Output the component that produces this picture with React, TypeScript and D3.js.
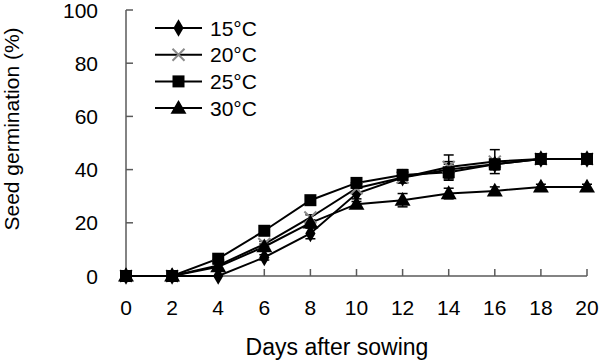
import React, { useRef, useEffect } from 'react';
import * as d3 from 'd3';

// Days after sowing
const days = [0, 2, 4, 6, 8, 10, 12, 14, 16, 18, 20];
const seriesNames = ['15°C', '20°C', '25°C', '30°C'];

// Mean germination (%) per series
const g15 = [0, 0, 0, 7, 16, 31, 37, 40, 42, 44, 44];
const g20 = [0, 0, 4, 12, 22, 33, 37, 41, 43, 44, 44];
const g25 = [0, 0, 6.5, 17, 28.5, 35, 38, 39, 42, 44, 44];
const g30 = [0, 0, 3.5, 11, 20, 27, 28.5, 31, 32, 33.5, 33.5];

// Error bar half-lengths
const e15 = [0, 0, 0, 1, 2, 2, 2, 3, 2, 1, 1];
const e20 = [0, 0, 1, 1, 1, 2, 2, 4.5, 4.5, 1, 1];
const e25 = [0, 0, 1, 1, 1, 1, 2, 3, 2, 1, 1];
const e30 = [0, 0, 1, 1, 1, 1, 2.5, 2, 1.5, 1, 1];

const yTicks = [0, 20, 40, 60, 80, 100];

const W = 600;
const H = 362;
const FONT = '"Liberation Sans", Arial, sans-serif';
const AXIS = '#5a5a5a';

type Shape = 'diamond' | 'cross' | 'square' | 'triangle';
const shapes: Shape[] = ['diamond', 'cross', 'square', 'triangle'];
const means = [g15, g20, g25, g30];
const errs = [e15, e20, e25, e30];

const App = () => {
  const svgRef = useRef<SVGSVGElement | null>(null);

  useEffect(() => {
    const svg = d3.select(svgRef.current);
    svg.selectAll('*').remove();

    const x = d3.scaleLinear().domain([0, 20]).range([126, 587]);
    const y = d3.scaleLinear().domain([0, 100]).range([276, 10]);

    const drawMarker = (g: d3.Selection<SVGGElement, unknown, null, undefined>, shape: Shape, cx: number, cy: number) => {
      if (shape === 'diamond') {
        g.append('path').attr('d', d3.symbol().type(d3.symbolDiamond).size(90)()).attr('transform', `translate(${cx},${cy})`).attr('fill', '#000');
      } else if (shape === 'square') {
        g.append('rect').attr('x', cx - 6).attr('y', cy - 6).attr('width', 12).attr('height', 12).attr('fill', '#000');
      } else if (shape === 'triangle') {
        g.append('path').attr('d', d3.symbol().type(d3.symbolTriangle).size(110)()).attr('transform', `translate(${cx},${cy + 1})`).attr('fill', '#000');
      } else {
        g.append('path').attr('d', `M${cx - 6},${cy - 6}L${cx + 6},${cy + 6}M${cx - 6},${cy + 6}L${cx + 6},${cy - 6}`)
          .attr('stroke', '#8a8a8a').attr('stroke-width', 2).attr('fill', 'none');
      }
    };

    // axes
    const ax = svg.append('g');
    ax.append('line').attr('x1', x(0)).attr('x2', x(0)).attr('y1', y(100)).attr('y2', y(0)).attr('stroke', AXIS).attr('stroke-width', 1.5);
    ax.append('line').attr('x1', x(0)).attr('x2', x(20)).attr('y1', y(0)).attr('y2', y(0)).attr('stroke', AXIS).attr('stroke-width', 1.5);
    yTicks.forEach((t) => {
      ax.append('line').attr('x1', x(0)).attr('x2', x(0) + 7).attr('y1', y(t)).attr('y2', y(t)).attr('stroke', AXIS).attr('stroke-width', 1.5);
      ax.append('text').attr('x', 98).attr('y', y(t) + 7.5).attr('text-anchor', 'end')
        .attr('font-family', FONT).attr('font-size', 21).attr('fill', '#000').text(t);
    });
    days.forEach((d) => {
      if (d > 0) {
        ax.append('line').attr('x1', x(d)).attr('x2', x(d)).attr('y1', y(0)).attr('y2', y(0) - 7).attr('stroke', AXIS).attr('stroke-width', 1.5);
      }
      ax.append('text').attr('x', x(d)).attr('y', 315).attr('text-anchor', 'middle')
        .attr('font-family', FONT).attr('font-size', 21).attr('fill', '#000').text(d);
    });
    ax.append('text').attr('x', 337).attr('y', 355).attr('text-anchor', 'middle')
      .attr('font-family', FONT).attr('font-size', 23).attr('fill', '#000').text('Days after sowing');
    ax.append('text').attr('transform', `translate(19,129) rotate(-90)`).attr('text-anchor', 'middle')
      .attr('font-family', FONT).attr('font-size', 21).attr('fill', '#000').text('Seed germination (%)');

    // series
    const line = d3.line<number>().x((_, i) => x(days[i])).y((v) => y(v));
    means.forEach((m, si) => {
      const g = svg.append('g');
      g.append('path').attr('d', line(m)).attr('fill', 'none').attr('stroke', '#000').attr('stroke-width', 2);
      m.forEach((v, i) => {
        const e = errs[si][i];
        if (e > 0) {
          const cx = x(days[i]);
          g.append('line').attr('x1', cx).attr('x2', cx).attr('y1', y(v - e)).attr('y2', y(v + e)).attr('stroke', '#000').attr('stroke-width', 1.5);
          [v - e, v + e].forEach((b) => {
            g.append('line').attr('x1', cx - 5).attr('x2', cx + 5).attr('y1', y(b)).attr('y2', y(b)).attr('stroke', '#000').attr('stroke-width', 1.5);
          });
        }
      });
    });
    means.forEach((m, si) => {
      const g = svg.append('g');
      m.forEach((v, i) => drawMarker(g, shapes[si], x(days[i]), y(v)));
    });

    // legend
    const lg = svg.append('g');
    seriesNames.forEach((name, i) => {
      const ly = 28 + i * 26.7;
      lg.append('line').attr('x1', 155).attr('x2', 202).attr('y1', ly).attr('y2', ly).attr('stroke', '#000').attr('stroke-width', 2);
      drawMarker(lg, shapes[i], 178.5, ly);
      lg.append('text').attr('x', 210).attr('y', ly + 7.5).attr('font-family', FONT).attr('font-size', 21).attr('fill', '#000').text(name);
    });
  }, []);

  return (
    <svg ref={svgRef} width={W} height={H} style={{ position: 'absolute', left: 0, top: 0, background: '#fff' }} />
  );
};

export default App;
